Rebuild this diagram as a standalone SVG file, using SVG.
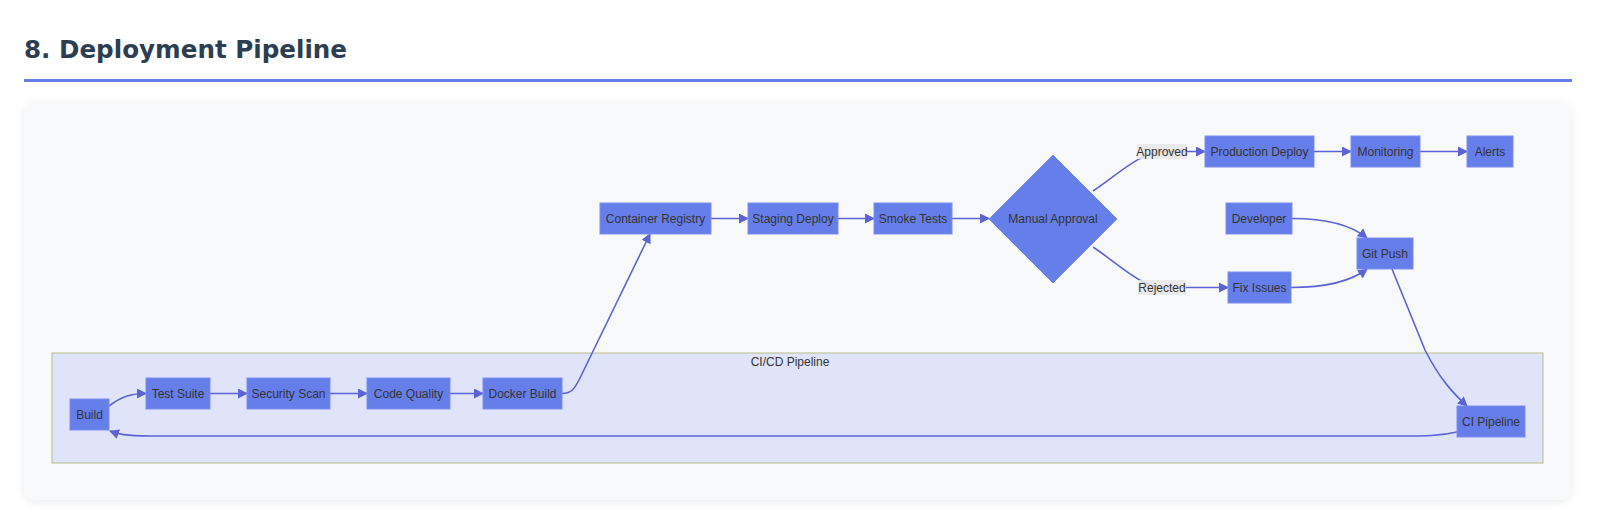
<svg xmlns="http://www.w3.org/2000/svg" width="1600" height="532" viewBox="0 0 1600 532">
<style>
.node rect, .node polygon { fill: #667eea; stroke: #7f8cef; stroke-width: 1; }
.node text { font-family: "Liberation Sans", Arial, sans-serif; font-size: 12px; fill: #333333; text-anchor: middle; dominant-baseline: central; }
.edge { fill: none; stroke: #5b63d6; stroke-width: 1.6; marker-end: url(#arrow); }
.elabel rect { fill: #e8e8e8; fill-opacity: 0.85; }
.elabel text { font-family: "Liberation Sans", Arial, sans-serif; font-size: 12px; fill: #333333; text-anchor: middle; dominant-baseline: central; }
.title { font-family: "DejaVu Sans", Verdana, sans-serif; font-weight: bold; font-size: 24.6px; fill: #2c3e50; }
</style>
<defs>
<marker id="arrow" viewBox="0 0 10 10" refX="9" refY="5" markerUnits="userSpaceOnUse" markerWidth="10" markerHeight="10" orient="auto">
<path d="M0,0 L10,5 L0,10 z" fill="#5b63d6"/>
</marker>
<filter id="shadow" x="-5%" y="-10%" width="110%" height="125%">
<feDropShadow dx="0" dy="2" stdDeviation="5" flood-color="#000000" flood-opacity="0.08"/>
</filter>
</defs>
<rect width="1600" height="532" fill="#ffffff"/>
<text class="title" x="24" y="58">8. Deployment Pipeline</text>
<rect x="24" y="79" width="1548" height="3" fill="#667eea"/>
<rect x="24" y="102" width="1547" height="398" rx="12" fill="#f8f9fa" filter="url(#shadow)"/>

<g id="cluster-cicd">
<rect x="52" y="353" width="1491" height="110" fill="#dfe4fb" stroke="#b9bd85" stroke-width="1"/>
<text x="790" y="362" font-family="Liberation Sans, Arial, sans-serif" font-size="12" fill="#333333" text-anchor="middle" dominant-baseline="central">CI/CD Pipeline</text>
</g>

<g id="connectors">
<path class="edge" d="M109,406 C122,396 132,393.5 146,393.5"/>
<path class="edge" d="M210,393.5 L247,393.5"/>
<path class="edge" d="M330,393.5 L367,393.5"/>
<path class="edge" d="M450,393.5 L483,393.5"/>
<path class="edge" d="M562,393.5 C572,393.5 575,388 580,378 L650,234"/>
<path class="edge" d="M711,218.5 L748,218.5"/>
<path class="edge" d="M838,218.5 L874,218.5"/>
<path class="edge" d="M952,218.5 L989,218.5"/>
<path class="edge" d="M1093,191 C1120,173 1140,152 1165,151.5 L1205,151.5"/>
<path class="edge" d="M1093,247 C1120,265 1140,287 1165,287.5 L1228,287.5"/>
<path class="edge" d="M1314,151.5 L1351,151.5"/>
<path class="edge" d="M1420,151.5 L1467,151.5"/>
<path class="edge" d="M1292,218.5 C1325,218.5 1350,224 1367,238"/>
<path class="edge" d="M1291,287.5 C1325,287.5 1350,282 1367,269"/>
<path class="edge" d="M1392,269 L1425,350 C1440,380 1455,395 1467,406"/>
<path class="edge" d="M1457,432 C1440,436 1425,436 1400,436 L150,436 C125,436 118,434 110,431"/>
</g>

<g id="label-approved" class="elabel">
<rect x="1137" y="144" width="50" height="15"/>
<text x="1162" y="151.5">Approved</text>
</g>
<g id="label-rejected" class="elabel">
<rect x="1138" y="280" width="48" height="15"/>
<text x="1162" y="287.5">Rejected</text>
</g>

<g id="node-build" class="node"><rect x="70" y="399" width="39" height="31"/><text x="89.5" y="414.5">Build</text></g>
<g id="node-test" class="node"><rect x="146" y="378" width="64" height="31"/><text x="178" y="393.5">Test Suite</text></g>
<g id="node-security" class="node"><rect x="247" y="378" width="83" height="31"/><text x="288.5" y="393.5">Security Scan</text></g>
<g id="node-quality" class="node"><rect x="367" y="378" width="83" height="31"/><text x="408.5" y="393.5">Code Quality</text></g>
<g id="node-docker" class="node"><rect x="483" y="378" width="79" height="31"/><text x="522.5" y="393.5">Docker Build</text></g>
<g id="node-ci" class="node"><rect x="1457" y="406" width="68" height="31"/><text x="1491" y="421.5">CI Pipeline</text></g>

<g id="node-registry" class="node"><rect x="600" y="203" width="111" height="31"/><text x="655.5" y="218.5">Container Registry</text></g>
<g id="node-staging" class="node"><rect x="748" y="203" width="90" height="31"/><text x="793" y="218.5">Staging Deploy</text></g>
<g id="node-smoke" class="node"><rect x="874" y="203" width="78" height="31"/><text x="913" y="218.5">Smoke Tests</text></g>
<g id="node-approval" class="node"><polygon points="1053,155 1117,219 1053,283 989,219"/><text x="1053" y="219">Manual Approval</text></g>
<g id="node-production" class="node"><rect x="1205" y="136" width="109" height="31"/><text x="1259.5" y="151.5">Production Deploy</text></g>
<g id="node-monitoring" class="node"><rect x="1351" y="136" width="69" height="31"/><text x="1385.5" y="151.5">Monitoring</text></g>
<g id="node-alerts" class="node"><rect x="1467" y="136" width="46" height="31"/><text x="1490" y="151.5">Alerts</text></g>
<g id="node-developer" class="node"><rect x="1226" y="203" width="66" height="31"/><text x="1259" y="218.5">Developer</text></g>
<g id="node-gitpush" class="node"><rect x="1357" y="238" width="56" height="31"/><text x="1385" y="253.5">Git Push</text></g>
<g id="node-fix" class="node"><rect x="1228" y="272" width="63" height="31"/><text x="1259.5" y="287.5">Fix Issues</text></g>
</svg>
